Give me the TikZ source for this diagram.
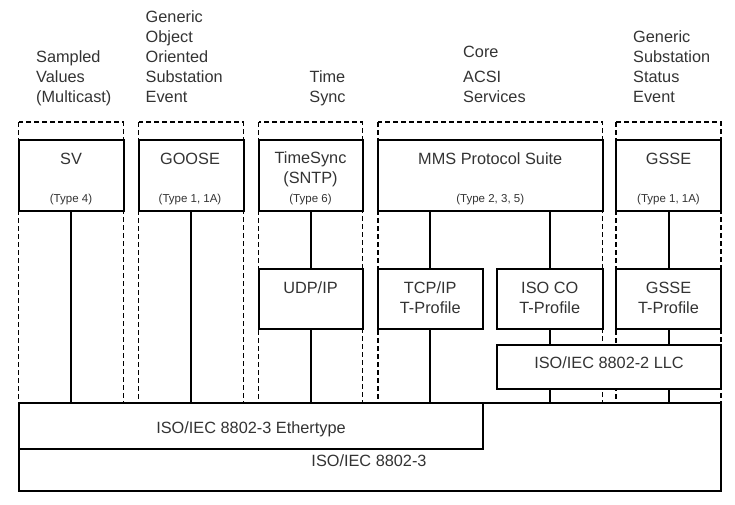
\documentclass[tikz,border=0pt]{standalone}
\usepackage{fontspec}
\setmainfont{Liberation Sans}

\begin{document}
\begin{tikzpicture}[x=1pt, y=-1pt,
        blk/.style={draw, line width=2pt, fill=white, inner sep=0pt},
        colframe/.style={line width=1.5pt, dash pattern=on 5pt off 3pt},
        wire/.style={line width=2pt},
        txt/.style={font=\fontsize{16.3}{20}\selectfont, text=black!80, inner sep=0pt, anchor=base},
        typetxt/.style={font=\fontsize{11.5}{14}\selectfont, text=black!80, inner sep=0pt, anchor=base},
        colhead/.style={font=\fontsize{16.3}{20}\selectfont, text=black!80, inner sep=0pt, align=left, anchor=south west, text depth=0pt}]

        \useasboundingbox (0,0) rectangle (735,504);

        \node [colhead] (hsv) at (36,103) {Sampled\\Values\\(Multicast)};
        \node [colhead] (hgoose) at (145.5,103) {Generic\\Object\\Oriented\\Substation\\Event};
        \node [colhead, align=center, anchor=south] (hts) at (327.5,103) {Time\\Sync};
        \node [colhead] (hcore) at (463,103) {Core\\[5.5pt]ACSI\\Services};
        \node [colhead] (hgsse) at (633,103) {Generic\\Substation\\Status\\Event};

        \draw [colframe] (18.5,122) rectangle (123.5,403.3);
        \draw [colframe] (138.5,122) rectangle (243.5,403.3);
        \draw [colframe] (258.5,122) rectangle (362.5,403.3);
        \draw [colframe] (378,122) rectangle (602.5,403.3);
        \draw [colframe] (616,122) rectangle (721,403.3);

        \node [blk, minimum width=702.5pt, minimum height=87.4pt] (net) at (369.75,447) {};
        \node [blk, minimum width=464pt, minimum height=46pt] (eth) at (250.5,426.3) {};
        \node [txt] (teth) at (251,433.5) {ISO/IEC 8802-3 Ethertype};
        \node [txt] (tnet) at (369,466.5) {ISO/IEC 8802-3};

        \node [blk, minimum width=105pt, minimum height=71pt] (sv) at (71,175.5) {};
        \node [blk, minimum width=105pt, minimum height=71pt] (goose) at (191,175.5) {};
        \node [blk, minimum width=104pt, minimum height=71pt] (ts) at (310.5,175.5) {};
        \node [blk, minimum width=224.5pt, minimum height=71pt] (mms) at (490.25,175.5) {};
        \node [blk, minimum width=105pt, minimum height=71pt] (gsse) at (668.5,175.5) {};

        \node [txt] (tsv) at (71,164) {SV};
        \node [typetxt] (tsvtype) at (71,202.5) {(Type 4)};
        \node [txt] (tgoose) at (190,164) {GOOSE};
        \node [typetxt] (tgoosetype) at (190,202.5) {(Type 1, 1A)};
        \node [txt] (tts) at (310.5,163.5) {TimeSync};
        \node [txt] (tsntp) at (310.5,183.3) {(SNTP)};
        \node [typetxt] (ttstype) at (310.5,202.5) {(Type 6)};
        \node [txt] (tmms) at (490.25,164) {MMS Protocol Suite};
        \node [typetxt] (tmmstype) at (490.25,202.5) {(Type 2, 3, 5)};
        \node [txt] (tgsse) at (668.5,164) {GSSE};
        \node [typetxt] (tgssetype) at (668.5,202.5) {(Type 1, 1A)};

        \node [blk, minimum width=104pt, minimum height=59.7pt] (udp) at (310.5,299.15) {};
        \node [blk, minimum width=104.5pt, minimum height=59.7pt] (tcp) at (430.25,299.15) {};
        \node [blk, minimum width=105.5pt, minimum height=59.7pt] (isoco) at (549.75,299.15) {};
        \node [blk, minimum width=105pt, minimum height=59.7pt] (gsset) at (668.5,299.15) {};
        \node [blk, minimum width=224pt, minimum height=43.5pt] (llc) at (609,366.75) {};

        \node [txt] (tudp) at (310.5,293) {UDP/IP};
        \node [txt] (ttcp) at (430.25,293) {TCP/IP};
        \node [txt] (ttcp2) at (430.25,313) {T-Profile};
        \node [txt] (tisoco) at (549.75,293) {ISO CO};
        \node [txt] (tisoco2) at (549.75,313) {T-Profile};
        \node [txt] (tgsset) at (668.5,293) {GSSE};
        \node [txt] (tgsset2) at (668.5,313) {T-Profile};
        \node [txt] (tllc) at (609,368.5) {ISO/IEC 8802-2 LLC};

        \draw [wire] (sv.south) -- (sv.south |- eth.north);
        \draw [wire] (goose.south) -- (goose.south |- eth.north);
        \draw [wire] (ts.south) -- (udp.north);
        \draw [wire] (udp.south) -- (udp.south |- eth.north);
        \draw [wire] (tcp.north |- mms.south) -- (tcp.north);
        \draw [wire] (tcp.south) -- (tcp.south |- eth.north);
        \draw [wire] (isoco.north |- mms.south) -- (isoco.north);
        \draw [wire] (isoco.south) -- (isoco.south |- llc.north);
        \draw [wire] (isoco.south |- llc.south) -- (isoco.south |- net.north);
        \draw [wire] (gsse.south) -- (gsset.north);
        \draw [wire] (gsset.south) -- (gsset.south |- llc.north);
        \draw [wire] (gsset.south |- llc.south) -- (gsset.south |- net.north);
\end{tikzpicture}
\end{document}
